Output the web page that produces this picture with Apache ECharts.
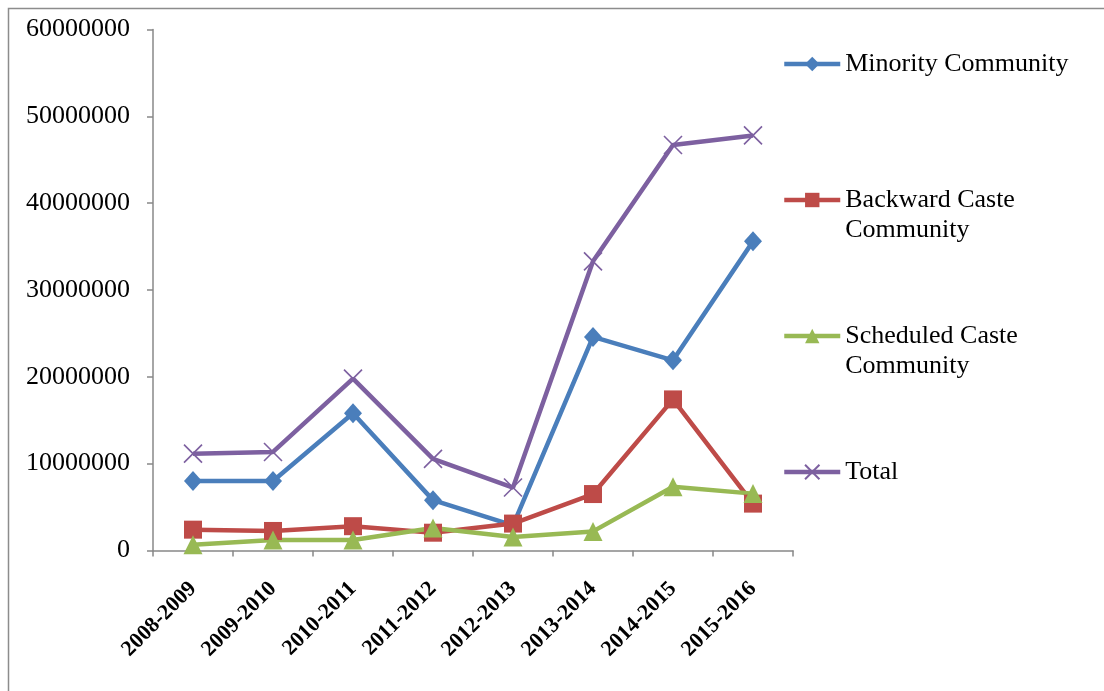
<!DOCTYPE html>
<html>
<head>
<meta charset="utf-8">
<script src="https://cdn.jsdelivr.net/npm/echarts@6/dist/echarts.min.js"></script>
<style>
html,body{margin:0;padding:0;background:#fff;}
#chart{width:1104px;height:691px;}
</style>
</head>
<body>
<div id="chart"></div>
<script>
var categories = ['2008-2009','2009-2010','2010-2011','2011-2012','2012-2013','2013-2014','2014-2015','2015-2016'];
var minority  = [8000000, 8000000, 15800000, 5800000, 2900000, 24600000, 21900000, 35600000];
var backward  = [2400000, 2250000, 2800000, 2050000, 3100000, 6500000, 17400000, 5400000];
var scheduled = [650000, 1200000, 1200000, 2600000, 1550000, 2200000, 7350000, 6550000];
var total     = [11150000, 11350000, 19800000, 10550000, 7250000, 33300000, 46700000, 47800000];
var yTicks = { min: 0, max: 60000000, interval: 10000000 };
var seriesNames = ['Minority Community', 'Backward Caste\nCommunity', 'Scheduled Caste\nCommunity', 'Total'];

var serif = '"Liberation Serif","Times New Roman",serif';
var chart = echarts.init(document.getElementById('chart'), null, {renderer:'canvas'});
var crossPath = 'path://M0,0L20,20M20,0L0,20';

function mk(name, data, color, symbol, size, extra) {
  var s = {
    name: name, type: 'line', data: data, symbol: symbol, symbolSize: size,
    lineStyle: {color: color, width: 4.5},
    itemStyle: {color: color},
    emphasis: {disabled: true},
    animation: false
  };
  if (extra) Object.assign(s.itemStyle, extra);
  return s;
}

var legendText = function(pad) {
  return {fontFamily: serif, fontSize: 26, color: '#000', lineHeight: 30, padding: pad};
};

chart.setOption({
  backgroundColor: '#fff',
  animation: false,
  graphic: [{
    type: 'rect', shape: {x: 8.5, y: 8.5, width: 1300, height: 900},
    style: {fill: 'none', stroke: '#8c8c8c', lineWidth: 1.5}, silent: true
  }],
  grid: {left: 153, right: 311, top: 29.5, bottom: 140.5, containLabel: false},
  legend: {
    orient: 'vertical', left: 777, top: 14, itemWidth: 56, itemHeight: 18, itemGap: 46,
    lineStyle: {width: 4.5},
    formatter: function (name) { return name.indexOf('\n') >= 0 ? ' \n' + name : name; },
    data: [
      {name: seriesNames[0], textStyle: legendText([30,0,30,0])},
      {name: seriesNames[1], textStyle: legendText([0,0,0,0])},
      {name: seriesNames[2], textStyle: legendText([0,0,0,0])},
      {name: seriesNames[3], textStyle: legendText([30,0,30,0])}
    ],
    textStyle: {fontFamily: serif, fontSize: 26, color: '#000', lineHeight: 30}
  },
  xAxis: {
    type: 'category', data: categories, boundaryGap: true,
    axisLine: {lineStyle: {color: '#888', width: 1.5}},
    axisTick: {show: true, length: 6, lineStyle: {color: '#888', width: 1.5}},
    axisLabel: {rotate: 45, margin: 35, fontFamily: serif, fontWeight: 'bold', fontSize: 22, color: '#000', interval: 0},
    splitLine: {show: false}
  },
  yAxis: {
    type: 'value', min: yTicks.min, max: yTicks.max, interval: yTicks.interval,
    axisLine: {show: true, lineStyle: {color: '#888', width: 1.5}},
    axisTick: {show: true, length: 6, lineStyle: {color: '#888', width: 1.5}},
    axisLabel: {margin: 23, fontFamily: serif, fontSize: 26, color: '#000',
      formatter: function (v) { return String(v); }},
    splitLine: {show: false}
  },
  series: [
    mk(seriesNames[0], minority, '#4A7EBB', 'diamond', [18, 20]),
    mk(seriesNames[1], backward, '#BE4B48', 'rect', 18),
    mk(seriesNames[2], scheduled, '#98B954', 'triangle', 19),
    mk(seriesNames[3], total, '#7D60A0', crossPath, 18, {borderColor: '#7D60A0', borderWidth: 1.6})
  ]
});
</script>
</body>
</html>
